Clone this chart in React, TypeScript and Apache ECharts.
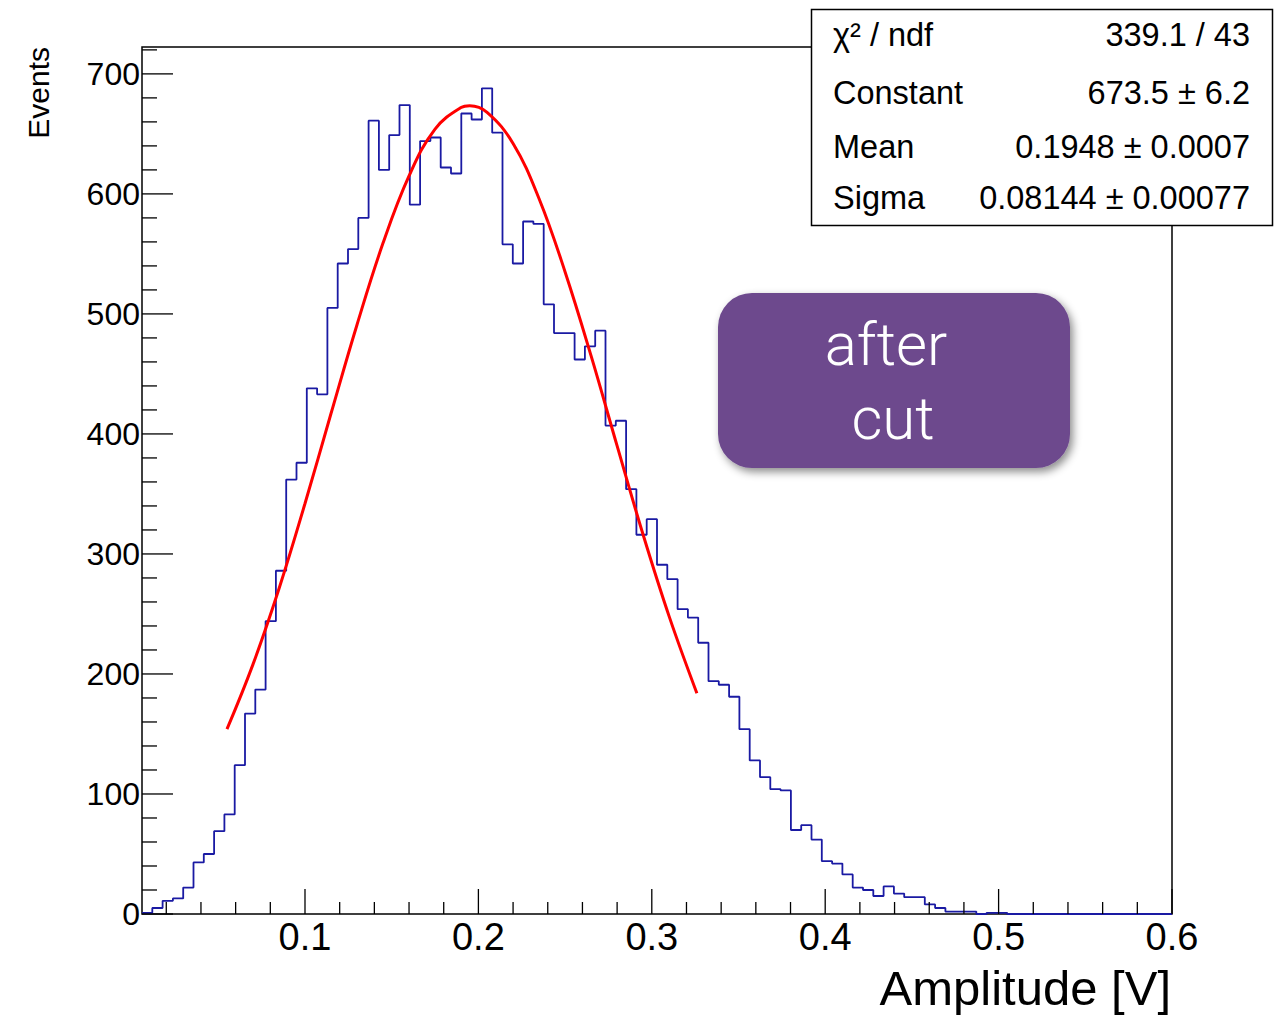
import React, { useEffect, useRef } from "react";
import * as echarts from "echarts";

// Histogram definition
const X_MIN = 0.006;
const X_MAX = 0.6;
const Y_MAX = 722.4;

// Bin contents, 100 bins from X_MIN to X_MAX
const BIN_VALUES = [
  1, 5, 11, 13, 22, 43, 50, 69, 83, 124,
  167, 187, 244, 286, 362, 376, 438, 433, 505, 542,
  554, 580, 661, 620, 649, 674, 591, 644, 647, 622,
  617, 667, 662, 688, 651, 558, 542, 577, 575, 508,
  484, 484, 462, 473, 486, 407, 411, 354, 316, 329,
  291, 279, 254, 247, 226, 194, 191, 181, 154, 128,
  114, 104, 103, 70, 74, 62, 44, 42, 33, 22,
  20, 15, 23, 17, 14, 14, 8, 5, 2, 2,
  2, 0, 1, 1, 0, 0, 0, 0, 0, 0,
  0, 0, 0, 0, 0, 0, 0, 0, 0, 0,
];

// Gaussian fit curve
const FIT_X = [0.055, 0.07, 0.085, 0.1, 0.115, 0.13, 0.145, 0.16, 0.175, 0.19, 0.195, 0.205, 0.22, 0.235, 0.25, 0.265, 0.28, 0.295, 0.31, 0.326];
const FIT_Y = [154, 208, 271, 342, 417, 491, 559, 615, 654, 672, 673.5, 668, 642, 596, 535, 465, 390, 316, 248, 184];

// Axis ticks
const X_MAJOR_TICKS = [0.1, 0.2, 0.3, 0.4, 0.5, 0.6];
const X_MINOR_STEP = 0.02;
const Y_MAJOR_TICKS = [0, 100, 200, 300, 400, 500, 600, 700];
const Y_MINOR_STEP = 20;

// Stats box
const STAT_NAMES = ["χ² / ndf", "Constant", "Mean", "Sigma"];
const STAT_VALUES = ["339.1 / 43", "673.5 ± 6.2", "0.1948 ± 0.0007", "0.08144 ± 0.00077"];

const X_TITLE = "Amplitude [V]";
const Y_TITLE = "Events";
const NOTE_LINES = ["after", "cut"];

const FONT = "'Liberation Sans', Arial, Helvetica, sans-serif";

function buildOption() {
  const nb = BIN_VALUES.length;
  const w = (X_MAX - X_MIN) / nb;
  const histData: number[][] = BIN_VALUES.map((v, i) => [X_MIN + i * w, v]);
  histData.push([X_MAX, BIN_VALUES[nb - 1]]);

  const fitData = FIT_X.map((x, i) => [x, FIT_Y[i]]);

  const xTicks: number[][] = [];
  for (let k = 1; k * X_MINOR_STEP <= X_MAX + 1e-9; k++) {
    const v = +(k * X_MINOR_STEP).toFixed(4);
    const major = X_MAJOR_TICKS.some((m) => Math.abs(m - v) < 1e-6);
    xTicks.push([v, 0, major ? 25 : 12]);
  }
  const yTicks: number[][] = [];
  for (let k = 0; k * Y_MINOR_STEP <= Y_MAX; k++) {
    const v = k * Y_MINOR_STEP;
    const major = Y_MAJOR_TICKS.includes(v);
    yTicks.push([X_MIN, v, major ? 31 : 15]);
  }

  const statRowsY = [35, 93, 146.5, 197.5];
  const statTexts: any[] = [];
  STAT_NAMES.forEach((n, i) => {
    statTexts.push({
      type: "text",
      x: 833,
      y: statRowsY[i],
      z: 101,
      style: { text: n, fontSize: 32.5, fontFamily: FONT, fill: "#000", align: "left", verticalAlign: "middle" },
    });
    statTexts.push({
      type: "text",
      x: 1250,
      y: statRowsY[i],
      z: 101,
      style: { text: STAT_VALUES[i], fontSize: 32.5, fontFamily: FONT, fill: "#000", align: "right", verticalAlign: "middle" },
    });
  });

  return {
    animation: false,
    backgroundColor: "#fff",
    grid: {
      left: 142,
      top: 47,
      width: 1030,
      height: 867,
      show: true,
      borderColor: "#000",
      borderWidth: 1.5,
      backgroundColor: "transparent",
    },
    xAxis: {
      type: "value",
      min: X_MIN,
      max: X_MAX,
      splitNumber: 5,
      axisLine: { show: false },
      axisTick: { show: false },
      splitLine: { show: false },
      axisLabel: {
        showMinLabel: false,
        fontSize: 38,
        color: "#000",
        fontFamily: FONT,
        margin: 4,
        formatter: (v: number) => v.toFixed(1),
      },
    },
    yAxis: {
      type: "value",
      min: 0,
      max: Y_MAX,
      splitNumber: 7,
      axisLine: { show: false },
      axisTick: { show: false },
      splitLine: { show: false },
      axisLabel: {
        showMaxLabel: false,
        fontSize: 32,
        color: "#000",
        fontFamily: FONT,
        margin: 2,
        padding: [8, 0, 0, 0],
        formatter: (v: number) => String(Math.round(v)),
      },
    },
    series: [
      {
        type: "line",
        data: histData,
        step: "end",
        symbol: "none",
        lineStyle: { color: "#1a1aa3", width: 1.8 },
        z: 3,
      },
      {
        type: "line",
        data: fitData,
        smooth: 0.4,
        symbol: "none",
        lineStyle: { color: "#ff0000", width: 3 },
        z: 4,
      },
      {
        type: "custom",
        data: xTicks,
        z: 5,
        clip: false,
        renderItem: (params: any, api: any) => {
          const p = api.coord([api.value(0), api.value(1)]);
          const len = api.value(2);
          return {
            type: "line",
            shape: { x1: p[0], y1: p[1], x2: p[0], y2: p[1] - len },
            style: { stroke: "#000", lineWidth: 1.3 },
          };
        },
      },
      {
        type: "custom",
        data: yTicks,
        z: 5,
        clip: false,
        renderItem: (params: any, api: any) => {
          const p = api.coord([api.value(0), api.value(1)]);
          const len = api.value(2);
          return {
            type: "line",
            shape: { x1: p[0], y1: p[1], x2: p[0] + len, y2: p[1] },
            style: { stroke: "#000", lineWidth: 1.3 },
          };
        },
      },
    ],
    graphic: [
      {
        type: "rect",
        z: 100,
        shape: { x: 811.5, y: 9.5, width: 461, height: 216 },
        style: { fill: "#fff", stroke: "#000", lineWidth: 1.5 },
      },
      ...statTexts,
      {
        type: "rect",
        z: 100,
        shape: { x: 718, y: 293, width: 352, height: 175, r: 34 },
        style: {
          fill: "#6d4a8d",
          shadowBlur: 8,
          shadowColor: "rgba(0,0,0,0.45)",
          shadowOffsetX: 3,
          shadowOffsetY: 4,
        },
      },
      {
        type: "text",
        x: 886,
        y: 344,
        z: 101,
        style: {
          text: NOTE_LINES[0],
          fontSize: 60,
          fontFamily: "Roboto, 'Open Sans', sans-serif",
          fontWeight: 300,
          fill: "#fff",
          align: "center",
          verticalAlign: "middle",
        },
      },
      {
        type: "text",
        x: 893,
        y: 418,
        z: 101,
        style: {
          text: NOTE_LINES[1],
          fontSize: 60,
          fontFamily: "Roboto, 'Open Sans', sans-serif",
          fontWeight: 300,
          fill: "#fff",
          align: "center",
          verticalAlign: "middle",
        },
      },
      {
        type: "text",
        x: 1171,
        y: 988,
        z: 101,
        style: {
          text: X_TITLE,
          fontSize: 49,
          fontFamily: FONT,
          fill: "#000",
          align: "right",
          verticalAlign: "middle",
        },
      },
      {
        type: "text",
        x: 38,
        y: 47,
        rotation: Math.PI / 2,
        z: 101,
        style: {
          text: Y_TITLE,
          fontSize: 30,
          fontFamily: FONT,
          fill: "#000",
          align: "right",
          verticalAlign: "middle",
        },
      },
    ],
  };
}

export default function App() {
  const ref = useRef<HTMLDivElement>(null);
  useEffect(() => {
    if (!ref.current) return;
    const chart = echarts.init(ref.current, undefined, { renderer: "svg" });
    chart.setOption(buildOption() as any);
    return () => chart.dispose();
  }, []);
  return (
    <div
      ref={ref}
      style={{ position: "fixed", left: 0, top: 0, width: 1283, height: 1017, background: "#fff" }}
    />
  );
}
